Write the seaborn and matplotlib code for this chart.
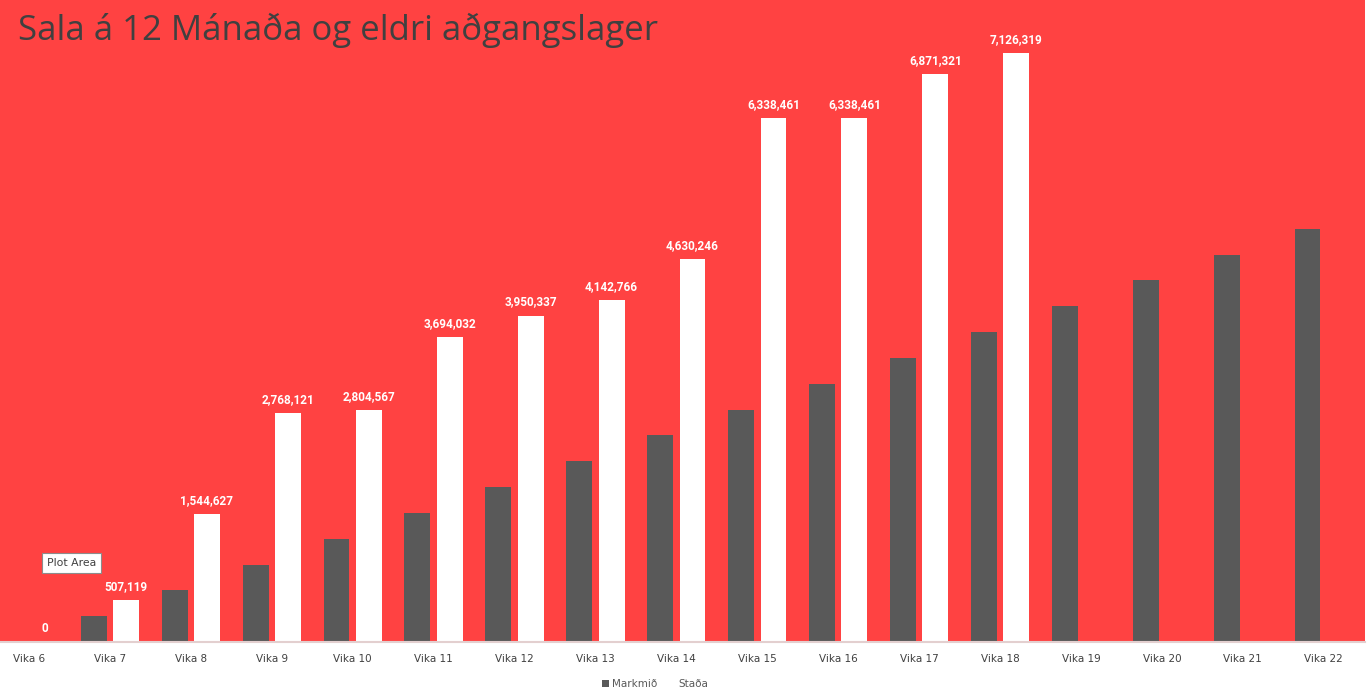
import matplotlib
matplotlib.use("Agg")
import matplotlib.pyplot as plt
import seaborn as sns
import pandas as pd
import numpy as np

weeks = ["Vika 6", "Vika 7", "Vika 8", "Vika 9", "Vika 10", "Vika 11", "Vika 12",
         "Vika 13", "Vika 14", "Vika 15", "Vika 16", "Vika 17", "Vika 18",
         "Vika 19", "Vika 20", "Vika 21", "Vika 22"]
markmid = [0, 312500, 625000, 937500, 1250000, 1562500, 1875000, 2187500, 2500000,
           2812500, 3125000, 3437500, 3750000, 4062500, 4375000, 4687500, 5000000]
stada = [0, 507119, 1544627, 2768121, 2804567, 3694032, 3950337, 4142766, 4630246,
         6338461, 6338461, 6871321, 7126319, None, None, None, None]
series_names = ["Markmið", "Staða"]
title_text = "Sala á 12 Mánaða og eldri aðgangslager"

RED = "#FF4242"
DARK = "#595959"

rows = []
for w, m, s in zip(weeks, markmid, stada):
    rows.append({"week": w, "series": series_names[0], "value": m})
    if s is not None:
        rows.append({"week": w, "series": series_names[1], "value": s})
df = pd.DataFrame(rows)

W, H = 1367, 698
fig = plt.figure(figsize=(W / 100, H / 100), dpi=100, facecolor="white")
ax = fig.add_axes([0, 56 / H, 1365 / W, 642 / H])
ax.set_facecolor(RED)

sns.barplot(data=df, x="week", y="value", hue="series", order=weeks,
            hue_order=series_names, palette={series_names[0]: DARK, series_names[1]: "white"},
            width=0.8, gap=0.2, saturation=1, errorbar=None, ax=ax, linewidth=0)

ax.set_xlim(-0.358, 16.51)
ax.set_ylim(0, 7767600)

# data labels for Staða
stada_container = ax.containers[1]
ax.bar_label(stada_container, fmt="{:,.0f}", padding=5, color="white",
             fontsize=8.5, fontweight="bold", family="Roboto")

for sp in ["left", "right", "top"]:
    ax.spines[sp].set_visible(False)
ax.spines["bottom"].set_color("#E3CFCF")
ax.spines["bottom"].set_linewidth(1.5)
ax.set_yticks([])
ax.set_xlabel("")
ax.set_ylabel("")
ax.tick_params(axis="x", length=0, pad=9, labelsize=7.5, labelcolor="#404040")

leg = ax.legend(loc="center", bbox_to_anchor=(0.479, 0.02), bbox_transform=fig.transFigure,
                ncol=2, frameon=False, fontsize=7.5, handlelength=0.7, handleheight=0.7,
                handletextpad=0.3, columnspacing=1.0, labelcolor="#595959")

fig.text(18 / W, 1 - 40 / H, title_text, fontsize=25, color="#404040",
         family="Open Sans", fontweight="normal", va="baseline", ha="left")

fig.text(47 / W, 1 - 563 / H, "Plot Area", fontsize=7.8, color="#404040",
         va="center", ha="left",
         bbox=dict(boxstyle="square,pad=0.45", fc="white", ec="#8C8C8C", lw=0.8))

fig.savefig("out.png", dpi=100, facecolor="white")
